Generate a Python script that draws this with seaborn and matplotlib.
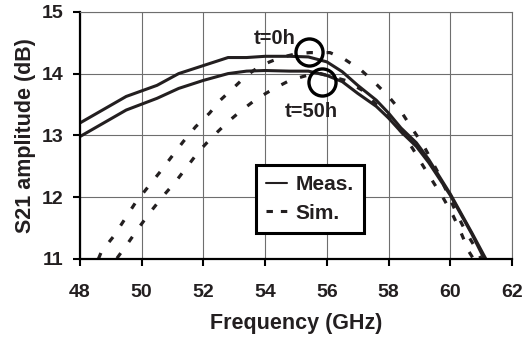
import matplotlib
matplotlib.use('Agg')
import numpy as np
import pandas as pd
import matplotlib.pyplot as plt
from matplotlib.lines import Line2D
import seaborn as sns

# measured S21, t=0h and t=50h
meas_0h_f = [48.0, 49.5, 50.5, 51.2, 52.0, 52.8, 53.4, 54.0, 54.8, 55.4, 56.0, 56.5,
             57.0, 57.6, 58.0, 58.4, 58.9, 59.3, 59.7, 60.0, 60.7, 61.15]
meas_0h = [13.20, 13.63, 13.81, 14.00, 14.13, 14.26, 14.26, 14.28, 14.28, 14.27, 14.19, 14.03,
           13.81, 13.57, 13.36, 13.12, 12.88, 12.61, 12.29, 12.05, 11.42, 11.0]
meas_50h_f = [48.0, 49.5, 50.5, 51.2, 52.0, 52.8, 53.4, 54.0, 54.8, 55.4, 56.0, 56.5,
              57.0, 57.6, 58.0, 58.4, 58.9, 59.3, 60.0, 60.7, 61.1]
meas_50h = [12.98, 13.41, 13.60, 13.76, 13.89, 14.00, 14.04, 14.05, 14.04, 14.04, 13.97, 13.87,
            13.68, 13.47, 13.28, 13.06, 12.82, 12.56, 12.03, 11.40, 11.0]

# simulated S21
sim_0h_f = [48.6, 48.7, 49.1, 49.45, 49.8, 50.2, 50.6, 50.95, 51.35, 51.75, 52.2, 52.55, 53.0,
            53.4, 53.8, 54.15, 54.5, 55.0, 55.45, 56.1, 56.55, 57.1, 57.5, 58.0, 58.4, 58.75,
            59.15, 59.6, 60.2, 60.5, 60.85, 61.0]
sim_0h = [11.0, 11.12, 11.37, 11.64, 11.91, 12.16, 12.41, 12.64, 12.90, 13.14, 13.36, 13.57, 13.78,
          13.97, 14.11, 14.19, 14.26, 14.32, 14.34, 14.34, 14.24, 14.06, 13.88, 13.63, 13.39, 13.12,
          12.82, 12.40, 11.74, 11.44, 11.15, 11.0]
sim_50h_f = [49.2, 49.55, 49.9, 50.3, 50.7, 51.1, 51.5, 51.85, 52.3, 52.8, 53.2, 53.75, 54.3,
             54.8, 55.35, 55.8, 56.6, 57.15, 57.8, 58.45, 58.8, 59.1, 59.8, 60.1, 60.35, 60.6, 60.75]
sim_50h = [11.01, 11.25, 11.50, 11.77, 12.02, 12.25, 12.51, 12.74, 12.98, 13.22, 13.39, 13.60, 13.76,
           13.89, 13.97, 14.0, 13.89, 13.73, 13.40, 13.04, 12.77, 12.52, 11.96, 11.69, 11.42, 11.12, 11.0]

# annotation circles and labels
circle_f = [55.43, 55.85]
circle_db = [14.35, 13.86]
label_text = ['t=0h', 't=50h']
label_f = [54.3, 55.51]
label_db = [14.57, 13.38]

x_ticks = [48, 50, 52, 54, 56, 58, 60, 62]
y_ticks = [11, 12, 13, 14, 15]

sns.set_style('white')
plt.rcParams['font.family'] = ['Liberation Sans', 'DejaVu Sans']
plt.rcParams['font.weight'] = 'bold'

ink = '#231f20'
dash = (0, (2.0, 4.3))

fig, ax = plt.subplots(figsize=(5.29, 3.38), dpi=100)
fig.subplots_adjust(left=0.151, right=0.968, top=0.965, bottom=0.234)

sns.lineplot(x=meas_0h_f, y=meas_0h, color=ink, lw=2.2, ax=ax)
sns.lineplot(x=meas_50h_f, y=meas_50h, color=ink, lw=2.2, ax=ax)
sns.lineplot(x=sim_0h_f, y=sim_0h, color=ink, lw=2.3, linestyle=dash, ax=ax)
sns.lineplot(x=sim_50h_f, y=sim_50h, color=ink, lw=2.3, linestyle=dash, ax=ax)

ax.plot(circle_f, circle_db, ls='none', marker='o', ms=19.5, mfc='none',
        mec='black', mew=2.4, zorder=5)
for t, fx, fy in zip(label_text, label_f, label_db):
    ax.text(fx, fy, t, fontsize=14.5, fontweight='bold', ha='center', va='center', color=ink)

ax.set_xlim(48, 62)
ax.set_ylim(11, 15)
ax.set_xticks(x_ticks)
ax.set_yticks(y_ticks)
ax.grid(True, color='#6e6e6e', lw=0.8)
ax.set_axisbelow(True)

for side in ['top', 'right']:
    ax.spines[side].set_color('#6e6e6e')
    ax.spines[side].set_linewidth(0.8)
for side in ['left', 'bottom']:
    ax.spines[side].set_color('black')
    ax.spines[side].set_linewidth(1.6)

ax.tick_params(axis='both', direction='out', length=5, width=1.5, color='black',
               labelsize=14, labelcolor=ink, left=True, bottom=True)
ax.tick_params(axis='x', pad=13)
ax.tick_params(axis='y', pad=7)

ax.set_xlabel('Frequency (GHz)', fontsize=15.5, fontweight='bold', color=ink, labelpad=9)
ax.set_ylabel('S21 amplitude (dB)', fontsize=15.5, fontweight='bold', color=ink, labelpad=4)

handles = [Line2D([], [], color=ink, lw=1.5),
           Line2D([], [], color=ink, lw=2.2, linestyle=(0, (2.1, 2.6)))]
leg = ax.legend(handles, ['Meas.', 'Sim.'], loc='lower left', bbox_to_anchor=(0.407, 0.105),
                borderaxespad=0, fancybox=False, framealpha=1, edgecolor='black',
                prop={'size': 15, 'weight': 'bold'}, handlelength=1.0, handletextpad=0.4,
                labelspacing=0.45, borderpad=0.5)
leg.get_frame().set_linewidth(2.2)
for txt in leg.get_texts():
    txt.set_color(ink)

plt.savefig('out.png', dpi=100, facecolor='w')
